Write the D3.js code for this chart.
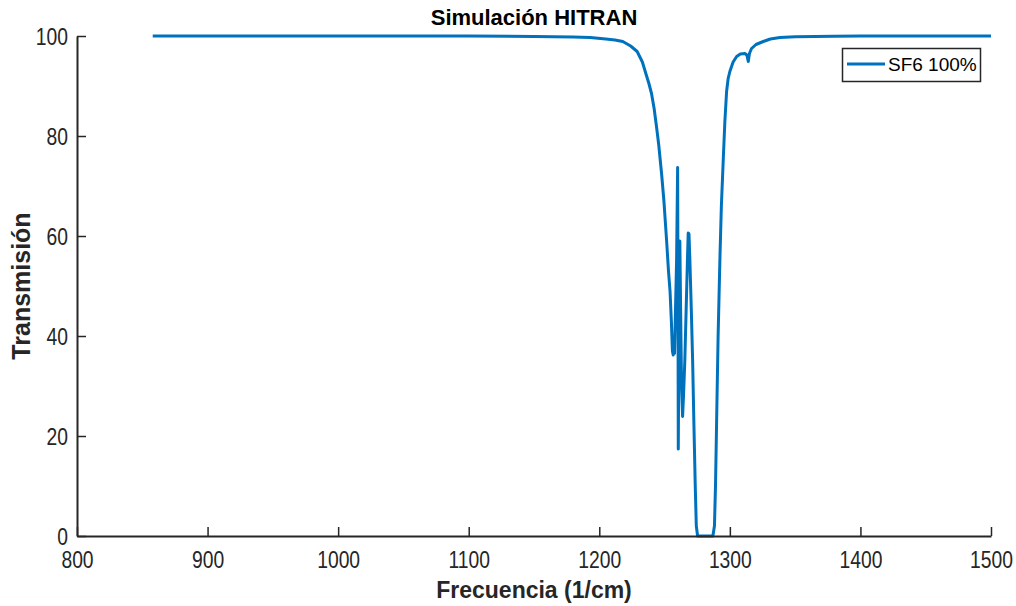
<!DOCTYPE html>
<html>
<head>
<meta charset="utf-8">
<script src="https://cdn.jsdelivr.net/npm/d3@7"></script>
<style>
  body { margin: 0; background: #fff; }
  svg { display: block; font-family: "Liberation Sans", Arial, Helvetica, sans-serif; }
</style>
</head>
<body>
<svg id="chart" width="1016" height="606"></svg>
<script>
// Data (wavenumber in 1/cm, transmission in %)
const freq = [858, 900, 1000, 1100, 1150, 1180, 1193, 1205, 1212, 1218, 1224, 1229, 1233, 1236, 1238, 1240,
  1242, 1244, 1245.5, 1247.8, 1249.5, 1251.6, 1253, 1254.2, 1255.2, 1256, 1256.6, 1257.2, 1257.6,
  1259.2, 1260.0, 1260.3, 1260.5, 1261.0, 1261.7, 1262.3, 1263.0, 1263.8, 1264.5, 1265.5, 1266.5, 1267.5,
  1268.1, 1268.7, 1269.4, 1270.5, 1271.5, 1272.5, 1273.5, 1274.3, 1275.3, 1277, 1287, 1288.2, 1289,
  1289.8, 1291, 1292.4, 1293.5, 1295, 1296.2, 1297.5, 1298.7, 1300, 1302.5, 1305.2, 1308, 1311.5, 1313,
  1314.1, 1315, 1316.6, 1320, 1325.6, 1331, 1338.4, 1350, 1380, 1400, 1500];
const trans = [100, 100, 100, 100, 99.9, 99.8, 99.7, 99.4, 99.2, 98.9, 98.0, 96.9, 94.8, 92.2, 90.5, 88.5,
  85.5, 81.5, 78.3, 72.2, 67, 58.9, 53, 48.9, 43, 37, 36.2, 39, 36.5,
  55, 73.7, 45, 17.4, 40, 59, 45, 30, 23.9, 28, 35, 45, 55,
  60.6, 60.4, 55, 45, 35, 22, 10, 2, 0, 0, 0, 2, 10,
  22, 40, 55.6, 66, 75.6, 83, 88.9, 91.5, 92.9, 94.8, 95.9, 96.4, 96.5, 96.2,
  94.9, 96.5, 97.5, 98.3, 98.9, 99.4, 99.7, 99.85, 99.95, 100, 100];
const xTicks = [800, 900, 1000, 1100, 1200, 1300, 1400, 1500];
const yTicks = [0, 20, 40, 60, 80, 100];
const seriesName = "SF6 100%";
const titleText = "Simulación HITRAN";
const xLabel = "Frecuencia (1/cm)";
const yLabel = "Transmisión";

const svg = d3.select("#chart");
const L = 77, R = 991, T = 36, B = 536;
const x = d3.scaleLinear().domain([800, 1500]).range([L, R]);
const y = d3.scaleLinear().domain([0, 100]).range([B, T]);
const axisColor = "#262626";
const sx = 0.84;

// line
const pts = freq.map((f, i) => [f, trans[i]]);
svg.append("path")
  .datum(pts)
  .attr("fill", "none")
  .attr("stroke", "#0072BD")
  .attr("stroke-width", 3)
  .attr("stroke-linejoin", "round")
  .attr("d", d3.line().x(d => x(d[0])).y(d => y(d[1])));

// axes
const gx = svg.append("g").attr("transform", `translate(0,${B})`)
  .call(d3.axisBottom(x).tickValues(xTicks).tickFormat(d3.format("d")).tickSizeInner(-9).tickSizeOuter(0).tickPadding(15));
const gy = svg.append("g").attr("transform", `translate(${L},0)`)
  .call(d3.axisLeft(y).tickValues(yTicks).tickFormat(d3.format("d")).tickSizeInner(-9).tickSizeOuter(0).tickPadding(9));
[gx, gy].forEach(g => {
  g.select(".domain").attr("stroke", axisColor).attr("stroke-width", 2);
  g.selectAll(".tick line").attr("stroke", axisColor).attr("stroke-width", 1.5);
  g.selectAll(".tick text").attr("fill", axisColor).style("font-size", "23px")
    .style("font-family", "'Liberation Sans', Arial, sans-serif")
    .attr("transform", `scale(${sx},1)`);
});
gx.selectAll(".tick text").attr("y", 32).attr("dy", 0);
gy.selectAll(".tick text").attr("x", -9 / sx).attr("dy", "0.36em");

// title and axis labels
svg.append("text").attr("x", (L + R) / 2).attr("y", 25).attr("text-anchor", "middle")
  .style("font-size", "22px").style("font-weight", "bold").attr("fill", "#000").text(titleText);
svg.append("text").attr("x", (L + R) / 2).attr("y", 598).attr("text-anchor", "middle")
  .style("font-size", "23px").style("font-weight", "bold").attr("fill", axisColor).text(xLabel);
svg.append("text").attr("transform", `translate(30,${(T + B) / 2}) rotate(-90)`).attr("text-anchor", "middle")
  .style("font-size", "25px").style("font-weight", "bold").attr("fill", axisColor).text(yLabel);

// legend
const lg = svg.append("g");
lg.append("rect").attr("x", 842.5).attr("y", 48.5).attr("width", 138).attr("height", 33)
  .attr("fill", "#fff").attr("stroke", axisColor).attr("stroke-width", 1.5);
lg.append("line").attr("x1", 847).attr("x2", 885).attr("y1", 64).attr("y2", 64)
  .attr("stroke", "#0072BD").attr("stroke-width", 3);
lg.append("text").attr("x", 888).attr("y", 71).style("font-size", "19px").attr("fill", "#000").text(seriesName);
</script>
</body>
</html>
